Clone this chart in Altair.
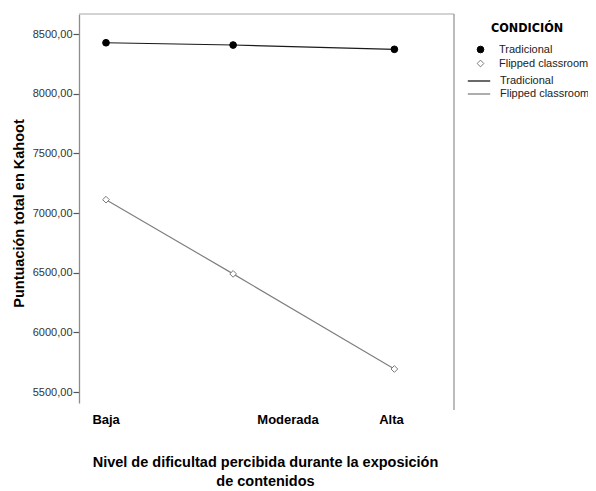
import altair as alt
import pandas as pd

# ---- data ----
niveles = ["Baja", "Moderada", "Alta"]
pos_x = [7.2, 41.1, 84.1]          # position of each level along the x scale (0-100)
label_pos = [7.1, 55.6, 83.2]      # position of each level's tick label
condiciones = ["Tradicional", "Flipped classroom"]
tradicional = [8427, 8408, 8372]
flipped = [7112, 6490, 5693]
y_ticks = [5500, 6000, 6500, 7000, 7500, 8000, 8500]
legend_title = "CONDICIÓN"

rows = []
for cond, vals in zip(condiciones, [tradicional, flipped]):
    for n, px, v in zip(niveles, pos_x, vals):
        rows.append({"nivel": n, "x": px, "valor": v, "cond": cond, "cond_line": cond})
df = pd.DataFrame(rows)

W, H = 375, 389
FONT = "Liberation Sans"

label_expr = " : ".join(
    f"datum.value == {p} ? '{n}'" for p, n in zip(label_pos, niveles)
) + " : ''"

x_enc = alt.X(
    "x:Q",
    scale=alt.Scale(domain=[0, 100], nice=False, zero=False),
    axis=alt.Axis(
        values=label_pos, labelExpr=label_expr, ticks=False, tickSize=0, domain=False,
        grid=False, labelFont=FONT, labelFontSize=13, labelFontWeight="bold",
        labelColor="#000000", labelBaseline="alphabetic", labelPadding=20,
        labelAlign="center", labelFlush=False,
        title=["Nivel de dificultad percibida durante la exposición", "de contenidos"],
        titleFont=FONT, titleFontSize=14.5, titleFontWeight="bold", titleColor="#000000",
        titleX=186, titleY=63, titleBaseline="alphabetic", titleAlign="center",
        titleLineHeight=19, titleAnchor="middle",
    ),
)
y_enc = alt.Y(
    "valor:Q",
    scale=alt.Scale(domain=[5408, 8668], nice=False, zero=False),
    axis=alt.Axis(
        values=y_ticks, labelExpr="replace(format(datum.value, '.2f'), '.', ',')",
        grid=False, domainColor="#8c8c8c", domainWidth=1.3, tickColor="#555555",
        tickSize=6, tickWidth=1.2, labelFont=FONT, labelFontSize=11, labelColor="#333333",
        labelPadding=1,
        title="Puntuación total en Kahoot", titleFont=FONT, titleFontSize=14.5,
        titleFontWeight="bold", titleColor="#000000", titleX=-56, titleY=199,
        titleBaseline="alphabetic", titleAlign="center", titleAngle=270,
    ),
)

legend_pts = alt.Legend(
    title=None, orient="none", legendX=396, legendY=30, padding=0,
    labelFont=FONT, labelFontSize=11, labelColor="#222222", labelOffset=13,
    rowPadding=2, symbolStrokeWidth=1, symbolSize=45, labelLimit=300,
)
legend_line = alt.Legend(
    title=None, orient="none", legendX=392, legendY=59, padding=0,
    labelFont=FONT, labelFontSize=11, labelColor="#222222", labelOffset=13,
    rowPadding=0, symbolType="M-1.6,0H1.6", symbolSize=196, symbolStrokeWidth=1.3,
    labelLimit=300,
)

base = alt.Chart(df)

lines = base.mark_line(strokeWidth=1.2).encode(
    x=x_enc, y=y_enc,
    color=alt.Color("cond_line:N", sort=condiciones,
                    scale=alt.Scale(range=["#1a1a1a", "#808080"]),
                    legend=legend_line),
)

points = base.mark_point(filled=True, strokeWidth=1, opacity=1).encode(
    x=x_enc, y=y_enc,
    shape=alt.Shape("cond:N", scale=alt.Scale(domain=condiciones, range=["circle", "diamond"]),
                    legend=legend_pts),
    fill=alt.Fill("cond:N", scale=alt.Scale(domain=condiciones, range=["#000000", "#ffffff"]),
                  legend=legend_pts),
    stroke=alt.Stroke("cond:N", scale=alt.Scale(domain=condiciones, range=["#000000", "#7a7a7a"]),
                      legend=legend_pts),
    size=alt.value(45),
)

one = pd.DataFrame({"a": [0]})
top_border = alt.Chart(one).mark_rule(color="#c4c4c4", strokeWidth=1.6).encode(
    x=alt.value(0), x2=alt.value(W), y=alt.value(0)
)
right_border = alt.Chart(one).mark_rule(color="#a0a0a0", strokeWidth=1.4).encode(
    x=alt.value(W), y=alt.value(0), y2=alt.value(H + 7)
)
legend_head = alt.Chart(one).mark_text(
    text=legend_title, align="left", baseline="alphabetic",
    font="DejaVu Sans Condensed, Liberation Sans", fontSize=12.5, fontWeight="bold",
    color="#000000",
).encode(x=alt.value(412), y=alt.value(18))

chart = alt.layer(top_border, right_border, lines, points, legend_head).properties(
    width=W, height=H,
    autosize=alt.AutoSizeParams(type="none"),
    padding={"left": 71, "top": 6, "right": 134, "bottom": 87},
    background="#ffffff",
).configure_view(stroke=None)

chart.save("out.html", embed_options={"renderer": "svg", "actions": False})
